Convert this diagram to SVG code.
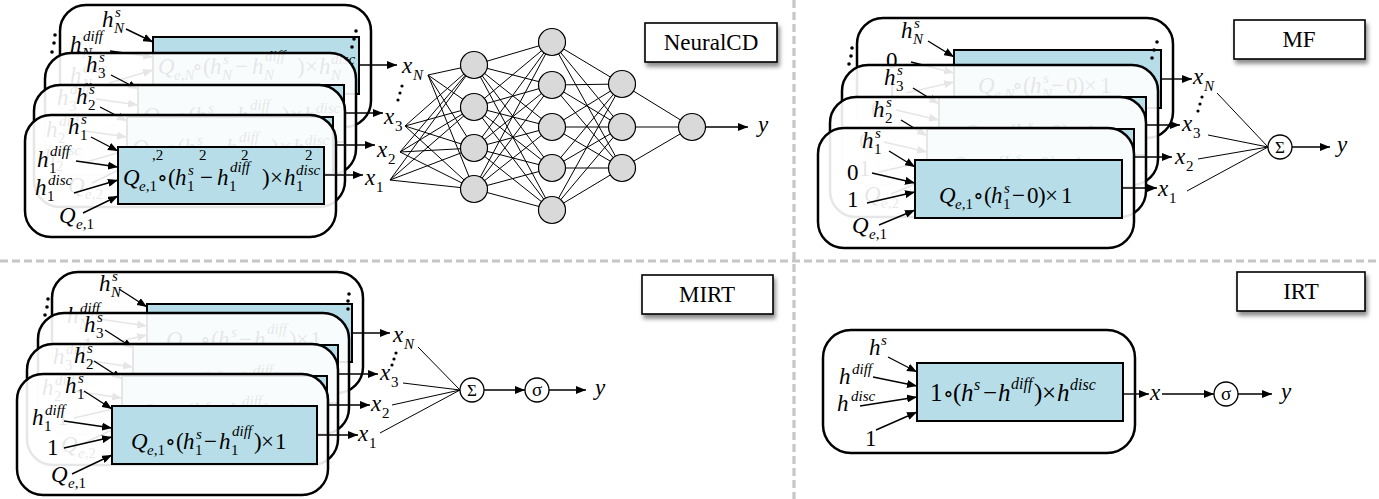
<svg xmlns="http://www.w3.org/2000/svg" width="1379" height="499" viewBox="0 0 1379 499">
<defs>
<marker id="ah" viewBox="0 0 10 8" refX="10" refY="4" markerWidth="10" markerHeight="8" markerUnits="userSpaceOnUse" orient="auto"><path d="M0,0L10,4L0,8z" fill="#000"/></marker>
<filter id="sh" x="-20%" y="-30%" width="150%" height="180%"><feDropShadow dx="2" dy="4" stdDeviation="2.2" flood-color="#000" flood-opacity="0.45"/></filter>
<style>
.card{fill:#fff;fill-opacity:0.9;stroke:#000;stroke-width:2.5}
.blue{fill:#b7dee8;stroke:#000;stroke-width:2}
.t{font-family:"Liberation Serif","Times New Roman","DejaVu Serif",serif;font-size:23px;fill:#000}
.i{font-style:italic}
.s{font-size:15px}
.r{font-family:"DejaVu Serif",serif;font-size:22px}
.arr{stroke:#000;stroke-width:1.4;fill:none;marker-end:url(#ah)}
.ln{stroke:#000;stroke-width:1;fill:none}
.nd{fill:#d9d9d9;stroke:#000;stroke-width:1.2}
.op{fill:#fff;stroke:#000;stroke-width:1.3}
.sep{stroke:#c6c6c6;stroke-width:3.2;stroke-dasharray:8 4;fill:none}
.box{fill:#fff;stroke:#000;stroke-width:1.6;filter:url(#sh)}
.bt{font-family:"Liberation Serif","Times New Roman",serif;font-size:23px;text-anchor:middle}
.dot{fill:#000}
</style>
</defs>
<rect width="1379" height="499" fill="#fff"/>

<g id="separators">
<path class="sep" d="M794 0V499"/>
<path class="sep" d="M0 261H1379"/>
</g>

<!-- ================= NeuralCD ================= -->
<g id="ncd-card-N" transform="translate(60,5)">
<rect class="card" width="311" height="122" rx="26"/>
<rect class="blue" x="93" y="32" width="206" height="57"/>
<text class="t i" x="42" y="22">h</text><text class="t s i" x="54" y="28">N</text><text class="t s i" x="55" y="12">s</text>
<path class="arr" d="M66 24L93 37"/>
<text class="t i" x="10" y="47">h</text><text class="t s i" x="22" y="53">N</text><text class="t s i" x="23" y="36">diff</text>
<path class="arr" d="M50 46L93 52"/>
<text class="t i" x="10" y="78">h</text><text class="t s i" x="22" y="84">N</text><text class="t s i" x="23" y="68">disc</text>
<path class="arr" d="M49 78L93 65"/>
<text class="t i" x="34" y="108">Q</text><text class="t s" x="51" y="114"><tspan class="i">e</tspan>,<tspan class="i">N</tspan></text>
<path class="arr" d="M58 98L93 81"/>
<text class="t"><tspan class="i" x="98" y="69">Q</tspan><tspan class="s" x="114" y="75"><tspan class="i">e</tspan>,<tspan class="i">N</tspan></tspan><tspan class="r" x="132" y="69">∘</tspan><tspan x="143" y="69">(</tspan><tspan class="i" x="150" y="69">h</tspan><tspan class="s i" x="162" y="75">N</tspan><tspan class="s i" x="163" y="59">s</tspan><tspan x="175" y="69">−</tspan><tspan class="i" x="192" y="69">h</tspan><tspan class="s i" x="204" y="75">N</tspan><tspan class="s i" x="205" y="56">diff</tspan><tspan x="237" y="69">)</tspan><tspan x="245" y="69">×</tspan><tspan class="i" x="259" y="69">h</tspan><tspan class="s i" x="271" y="75">N</tspan><tspan class="s i" x="271" y="59">disc</tspan></text>
<path class="arr" d="M299 60H337"/>
<circle class="dot" cx="-5" cy="30" r="1.8"/><circle class="dot" cx="-6" cy="38" r="1.8"/><circle class="dot" cx="-8" cy="47" r="1.8"/>
<circle class="dot" cx="296" cy="26" r="1.8"/><circle class="dot" cx="294" cy="34" r="1.8"/><circle class="dot" cx="292" cy="42" r="1.8"/>
</g>

<g id="ncd-card-3" transform="translate(45,53)">
<rect class="card" width="311" height="122" rx="26"/>
<rect class="blue" x="93" y="32" width="206" height="57"/>
<text class="t i" x="41" y="19">h</text><text class="t s" x="53" y="25">3</text><text class="t s i" x="54" y="9">s</text>
<path class="arr" d="M66 22L93 36"/>
<text class="t i" x="12" y="52">h</text><text class="t s" x="24" y="58">3</text><text class="t s i" x="25" y="41">diff</text>
<path class="arr" d="M51 46L93 52"/>
<text class="t i" x="10" y="80">h</text><text class="t s" x="22" y="86">3</text><text class="t s i" x="23" y="70">disc</text>
<path class="arr" d="M49 78L93 65"/>
<text class="t i" x="34" y="108">Q</text><text class="t s" x="51" y="114"><tspan class="i">e</tspan>,3</text>
<path class="arr" d="M58 98L93 81"/>
<text class="t"><tspan class="i" x="98" y="70">Q</tspan><tspan class="s" x="114" y="76"><tspan class="i">e</tspan>,3</tspan><tspan class="r" x="132" y="70">∘</tspan><tspan x="143" y="70">(</tspan><tspan class="i" x="150" y="70">h</tspan><tspan class="s" x="162" y="76">3</tspan><tspan class="s i" x="163" y="60">s</tspan><tspan x="175" y="70">−</tspan><tspan class="i" x="192" y="70">h</tspan><tspan class="s" x="204" y="76">3</tspan><tspan class="s i" x="205" y="57">diff</tspan><tspan x="237" y="70">)</tspan><tspan x="245" y="70">×</tspan><tspan class="i" x="259" y="70">h</tspan><tspan class="s" x="271" y="76">3</tspan><tspan class="s i" x="271" y="60">disc</tspan></text>
<path class="arr" d="M299 60H338"/>
</g>

<g id="ncd-card-2" transform="translate(34,85)">
<rect class="card" width="311" height="122" rx="26"/>
<rect class="blue" x="93" y="32" width="206" height="57"/>
<text class="t i" x="42" y="19">h</text><text class="t s" x="54" y="25">2</text><text class="t s i" x="55" y="9">s</text>
<path class="arr" d="M66 22L93 36"/>
<text class="t i" x="12" y="52">h</text><text class="t s" x="24" y="58">2</text><text class="t s i" x="25" y="41">diff</text>
<path class="arr" d="M51 46L93 52"/>
<text class="t i" x="10" y="80">h</text><text class="t s" x="22" y="86">2</text><text class="t s i" x="23" y="70">disc</text>
<path class="arr" d="M49 78L93 65"/>
<text class="t i" x="34" y="108">Q</text><text class="t s" x="51" y="114"><tspan class="i">e</tspan>,2</text>
<path class="arr" d="M58 98L93 81"/>
<text class="t"><tspan class="i" x="98" y="70">Q</tspan><tspan class="s i" x="114" y="76">e</tspan><tspan class="r" x="132" y="70">∘</tspan><tspan x="143" y="70">(</tspan><tspan class="i" x="150" y="70">h</tspan><tspan class="s i" x="163" y="60">s</tspan><tspan x="175" y="70">−</tspan><tspan class="i" x="192" y="70">h</tspan><tspan class="s i" x="205" y="57">diff</tspan><tspan x="237" y="70">)</tspan><tspan x="245" y="70">×</tspan><tspan class="i" x="259" y="70">h</tspan><tspan class="s i" x="271" y="60">disc</tspan></text>
<path class="arr" d="M299 60H341"/>
</g>

<g id="ncd-card-1" transform="translate(25,115)">
<rect class="card" width="311" height="122" rx="26"/>
<rect class="blue" x="93" y="32" width="206" height="57"/>
<text class="t i" x="43" y="19">h</text><text class="t s" x="55" y="25">1</text><text class="t s i" x="56" y="9">s</text>
<path class="arr" d="M66 22L93 36"/>
<text class="t i" x="12" y="52">h</text><text class="t s" x="24" y="58">1</text><text class="t s i" x="25" y="41">diff</text>
<path class="arr" d="M51 46L93 52"/>
<text class="t i" x="10" y="80">h</text><text class="t s" x="22" y="86">1</text><text class="t s i" x="23" y="70">disc</text>
<path class="arr" d="M49 78L93 65"/>
<text class="t i" x="34" y="108">Q</text><text class="t s" x="51" y="114"><tspan class="i">e</tspan>,1</text>
<path class="arr" d="M58 98L93 81"/>
<text class="t"><tspan class="i" x="98" y="70">Q</tspan><tspan class="s" x="114" y="76"><tspan class="i">e</tspan>,1</tspan><tspan class="r" x="132" y="70">∘</tspan><tspan x="143" y="70">(</tspan><tspan class="i" x="150" y="70">h</tspan><tspan class="s" x="162" y="76">1</tspan><tspan class="s i" x="163" y="60">s</tspan><tspan x="175" y="70">−</tspan><tspan class="i" x="192" y="70">h</tspan><tspan class="s" x="204" y="76">1</tspan><tspan class="s i" x="205" y="57">diff</tspan><tspan x="237" y="70">)</tspan><tspan x="245" y="70">×</tspan><tspan class="i" x="259" y="70">h</tspan><tspan class="s" x="271" y="76">1</tspan><tspan class="s i" x="271" y="60">disc</tspan></text>
<path class="arr" d="M299 60H338"/>
</g>
<g id="ncd-card-2-subscripts">
<text class="t s" x="152" y="160">,2</text><text class="t s" x="199" y="160">2</text><text class="t s" x="241" y="160">2</text><text class="t s" x="305" y="160">2</text>
</g>

<g id="ncd-connectors">
<path class="ln" d="M428 75L474 65M428 75L474 107M428 75L474 148M428 75L474 189M405 126L474 65M405 126L474 107M405 126L474 148M405 126L474 189M400 152L474 65M400 152L474 107M400 152L474 148M400 152L474 189M390 180L474 65M390 180L474 107M390 180L474 148M390 180L474 189"/>
<path class="ln" d="M474 65L552 42M474 65L552 85M474 65L552 127M474 65L552 168M474 65L552 210M474 107L552 42M474 107L552 85M474 107L552 127M474 107L552 168M474 107L552 210M474 148L552 42M474 148L552 85M474 148L552 127M474 148L552 168M474 148L552 210M474 189L552 42M474 189L552 85M474 189L552 127M474 189L552 168M474 189L552 210"/>
<path class="ln" d="M552 42L622 84M552 42L622 127M552 42L622 168M552 85L622 84M552 85L622 127M552 85L622 168M552 127L622 84M552 127L622 127M552 127L622 168M552 168L622 84M552 168L622 127M552 168L622 168M552 210L622 84M552 210L622 127M552 210L622 168"/>
<path class="ln" d="M622 84L692 127M622 127L692 127M622 168L692 127"/>
<path class="arr" d="M706 127H748"/>
</g>
<g id="ncd-nodes">
<g id="ncd-l1"><circle class="nd" cx="474" cy="65" r="13.5"/><circle class="nd" cx="474" cy="107" r="13.5"/><circle class="nd" cx="474" cy="148" r="13.5"/><circle class="nd" cx="474" cy="189" r="13.5"/></g>
<g id="ncd-l2"><circle class="nd" cx="552" cy="42" r="13.5"/><circle class="nd" cx="552" cy="85" r="13.5"/><circle class="nd" cx="552" cy="127" r="13.5"/><circle class="nd" cx="552" cy="168" r="13.5"/><circle class="nd" cx="552" cy="210" r="13.5"/></g>
<g id="ncd-l3"><circle class="nd" cx="622" cy="84" r="13.5"/><circle class="nd" cx="622" cy="127" r="13.5"/><circle class="nd" cx="622" cy="168" r="13.5"/></g>
<g id="ncd-out"><circle class="nd" cx="692" cy="127" r="13.5"/></g>
</g>
<g id="ncd-labels">
<text class="t i" x="365" y="185">x</text><text class="t s" x="376" y="192">1</text>
<text class="t i" x="377" y="157">x</text><text class="t s" x="388" y="164">2</text>
<text class="t i" x="384" y="124">x</text><text class="t s" x="395" y="131">3</text>
<text class="t i" x="402" y="73">x</text><text class="t s i" x="413" y="80">N</text>
<circle class="dot" cx="402" cy="86" r="1.6"/><circle class="dot" cx="400" cy="93" r="1.6"/><circle class="dot" cx="398" cy="100" r="1.6"/>
<text class="t i" x="758" y="132">y</text>
</g>
<g id="ncd-title"><rect class="box" x="645" y="23" width="132" height="39"/><text class="bt" x="711" y="50">NeuralCD</text></g>

<!-- ================= MF ================= -->
<g id="mf-card-N" transform="translate(857,18)">
<rect class="card" width="316" height="120" rx="26"/>
<rect class="blue" x="97" y="32" width="207" height="58"/>
<text class="t i" x="44" y="20">h</text><text class="t s i" x="56" y="26">N</text><text class="t s i" x="57" y="10">s</text>
<path class="arr" d="M71 23L97 39"/>
<text class="t" x="29" y="50">0</text><path class="arr" d="M54 44L97 55"/>
<text class="t" x="29" y="79">1</text><path class="arr" d="M49 75L97 64"/>
<text class="t i" x="34" y="105">Q</text><text class="t s" x="51" y="111"><tspan class="i">e</tspan>,<tspan class="i">N</tspan></text>
<path class="arr" d="M61 97L97 82"/>
<text class="t"><tspan class="i" x="121" y="75">Q</tspan><tspan class="s" x="137" y="81"><tspan class="i">e</tspan>,<tspan class="i">N</tspan></tspan><tspan class="r" x="155" y="75">∘</tspan><tspan x="166" y="75">(</tspan><tspan class="i" x="173" y="75">h</tspan><tspan class="s i" x="185" y="81">N</tspan><tspan class="s i" x="186" y="65">s</tspan><tspan x="194" y="75">−</tspan><tspan x="209" y="75">0</tspan><tspan x="220" y="75">)</tspan><tspan x="227" y="75">×</tspan><tspan x="243" y="75">1</tspan></text>
<path class="arr" d="M304 61H335"/>
<circle class="dot" cx="-5" cy="30" r="1.8"/><circle class="dot" cx="-6" cy="38" r="1.8"/><circle class="dot" cx="-8" cy="46" r="1.8"/>
<circle class="dot" cx="300" cy="24" r="1.8"/><circle class="dot" cx="297" cy="32" r="1.8"/><circle class="dot" cx="295" cy="40" r="1.8"/>
</g>
<g id="mf-card-3" transform="translate(842,65)">
<rect class="card" width="316" height="120" rx="26"/>
<rect class="blue" x="97" y="32" width="207" height="58"/>
<text class="t i" x="42" y="20">h</text><text class="t s" x="54" y="26">3</text><text class="t s i" x="55" y="10">s</text>
<path class="arr" d="M71 23L97 39"/>
<text class="t" x="29" y="52">0</text><path class="arr" d="M54 45L97 55"/>
<text class="t" x="29" y="79">1</text><path class="arr" d="M49 75L97 64"/>
<text class="t i" x="34" y="105">Q</text><text class="t s" x="51" y="111"><tspan class="i">e</tspan>,3</text>
<path class="arr" d="M61 97L97 82"/>
<text class="t"><tspan class="i" x="121" y="75">Q</tspan><tspan class="s" x="137" y="81"><tspan class="i">e</tspan>,3</tspan><tspan class="r" x="155" y="75">∘</tspan><tspan x="166" y="75">(</tspan><tspan class="i" x="173" y="75">h</tspan><tspan class="s" x="185" y="81">3</tspan><tspan class="s i" x="186" y="65">s</tspan><tspan x="194" y="75">−</tspan><tspan x="209" y="75">0</tspan><tspan x="220" y="75">)</tspan><tspan x="227" y="75">×</tspan><tspan x="243" y="75">1</tspan></text>
<path class="arr" d="M304 60H338"/>
</g>
<g id="mf-card-2" transform="translate(830,97)">
<rect class="card" width="316" height="120" rx="26"/>
<rect class="blue" x="97" y="32" width="207" height="58"/>
<text class="t i" x="43" y="20">h</text><text class="t s" x="55" y="26">2</text><text class="t s i" x="56" y="10">s</text>
<path class="arr" d="M71 23L97 39"/>
<text class="t" x="29" y="52">0</text><path class="arr" d="M54 45L97 55"/>
<text class="t" x="29" y="79">1</text><path class="arr" d="M49 75L97 64"/>
<text class="t i" x="34" y="105">Q</text><text class="t s" x="51" y="111"><tspan class="i">e</tspan>,2</text>
<path class="arr" d="M61 97L97 82"/>
<text class="t"><tspan class="i" x="121" y="75">Q</tspan><tspan class="s" x="137" y="81"><tspan class="i">e</tspan>,2</tspan><tspan class="r" x="155" y="75">∘</tspan><tspan x="166" y="75">(</tspan><tspan class="i" x="173" y="75">h</tspan><tspan class="s" x="185" y="81">2</tspan><tspan class="s i" x="186" y="65">s</tspan><tspan x="194" y="75">−</tspan><tspan x="209" y="75">0</tspan><tspan x="220" y="75">)</tspan><tspan x="227" y="75">×</tspan><tspan x="243" y="75">1</tspan></text>
<path class="arr" d="M304 60H342"/>
</g>
<g id="mf-card-1" transform="translate(818,128)">
<rect class="card" width="316" height="120" rx="26"/>
<rect class="blue" x="97" y="32" width="207" height="58"/>
<text class="t i" x="44" y="20">h</text><text class="t s" x="56" y="26">1</text><text class="t s i" x="57" y="10">s</text>
<path class="arr" d="M71 23L97 39"/>
<text class="t" x="29" y="52">0</text><path class="arr" d="M54 45L97 55"/>
<text class="t" x="29" y="79">1</text><path class="arr" d="M49 75L97 64"/>
<text class="t i" x="34" y="105">Q</text><text class="t s" x="51" y="111"><tspan class="i">e</tspan>,1</text>
<path class="arr" d="M61 97L97 82"/>
<text class="t"><tspan class="i" x="121" y="75">Q</tspan><tspan class="s" x="137" y="81"><tspan class="i">e</tspan>,1</tspan><tspan class="r" x="155" y="75">∘</tspan><tspan x="166" y="75">(</tspan><tspan class="i" x="173" y="75">h</tspan><tspan class="s" x="185" y="81">1</tspan><tspan class="s i" x="186" y="65">s</tspan><tspan x="194" y="75">−</tspan><tspan x="209" y="75">0</tspan><tspan x="220" y="75">)</tspan><tspan x="227" y="75">×</tspan><tspan x="243" y="75">1</tspan></text>
<path class="arr" d="M304 60H339"/>
</g>
<g id="mf-connectors">
<path class="ln" d="M1217 93L1268 147M1208 135L1268 147M1198 159L1268 147M1187 191L1268 147"/>
<path class="arr" d="M1292 147H1330"/>
</g>
<g id="mf-sum"><circle class="op" cx="1280" cy="147" r="12"/><text class="t" x="1280" y="153" text-anchor="middle" style="font-size:17px">Σ</text></g>
<g id="mf-labels">
<text class="t i" x="1158" y="196">x</text><text class="t s" x="1169" y="203">1</text>
<text class="t i" x="1175" y="164">x</text><text class="t s" x="1186" y="171">2</text>
<text class="t i" x="1182" y="131">x</text><text class="t s" x="1193" y="138">3</text>
<text class="t i" x="1193" y="84">x</text><text class="t s i" x="1204" y="91">N</text>
<circle class="dot" cx="1202" cy="97" r="1.6"/><circle class="dot" cx="1200" cy="104" r="1.6"/><circle class="dot" cx="1198" cy="111" r="1.6"/>
<text class="t i" x="1337" y="152">y</text>
</g>
<g id="mf-title"><rect class="box" x="1234" y="20" width="131" height="39"/><text class="bt" x="1299" y="47">MF</text></g>

<!-- ================= MIRT ================= -->
<g id="mirt-card-N" transform="translate(52,272)">
<rect class="card" width="311" height="121" rx="26"/>
<rect class="blue" x="95" y="32" width="205" height="58"/>
<text class="t i" x="47" y="19">h</text><text class="t s i" x="59" y="25">N</text><text class="t s i" x="60" y="9">s</text>
<path class="arr" d="M67 17L95 35"/>
<text class="t i" x="15" y="51">h</text><text class="t s i" x="27" y="57">N</text><text class="t s i" x="28" y="41">diff</text>
<path class="arr" d="M47 47L95 54"/>
<text class="t" x="30" y="81">1</text><path class="arr" d="M47 74L95 63"/>
<text class="t i" x="34" y="108">Q</text><text class="t s" x="51" y="114"><tspan class="i">e</tspan>,<tspan class="i">N</tspan></text>
<path class="arr" d="M55 100L95 81"/>
<text class="t"><tspan class="i" x="114" y="75">Q</tspan><tspan class="s" x="130" y="81"><tspan class="i">e</tspan>,<tspan class="i">N</tspan></tspan><tspan class="r" x="148" y="75">∘</tspan><tspan x="159" y="75">(</tspan><tspan class="i" x="166" y="75">h</tspan><tspan class="s i" x="178" y="81">N</tspan><tspan class="s i" x="179" y="65">s</tspan><tspan x="187" y="75">−</tspan><tspan class="i" x="202" y="75">h</tspan><tspan class="s i" x="214" y="81">N</tspan><tspan class="s i" x="215" y="62">diff</tspan><tspan x="237" y="75">)</tspan><tspan x="244" y="75">×</tspan><tspan x="258" y="75">1</tspan></text>
<path class="arr" d="M300 61H338"/>
<circle class="dot" cx="-4" cy="27" r="1.8"/><circle class="dot" cx="-5" cy="35" r="1.8"/><circle class="dot" cx="-7" cy="43" r="1.8"/>
<circle class="dot" cx="297" cy="22" r="1.8"/><circle class="dot" cx="296" cy="29" r="1.8"/><circle class="dot" cx="296" cy="37" r="1.8"/>
</g>
<g id="mirt-card-3" transform="translate(38,313)">
<rect class="card" width="311" height="121" rx="26"/>
<rect class="blue" x="95" y="32" width="205" height="58"/>
<text class="t i" x="46" y="19">h</text><text class="t s" x="58" y="25">3</text><text class="t s i" x="59" y="9">s</text>
<path class="arr" d="M67 17L95 35"/>
<text class="t i" x="15" y="51">h</text><text class="t s" x="27" y="57">3</text><text class="t s i" x="28" y="41">diff</text>
<path class="arr" d="M47 47L95 54"/>
<text class="t" x="30" y="81">1</text><path class="arr" d="M47 74L95 63"/>
<text class="t i" x="34" y="108">Q</text><text class="t s" x="51" y="114"><tspan class="i">e</tspan>,3</text>
<path class="arr" d="M55 100L95 81"/>
<text class="t"><tspan class="i" x="114" y="75">Q</tspan><tspan class="s" x="130" y="81"><tspan class="i">e</tspan>,3</tspan><tspan class="r" x="148" y="75">∘</tspan><tspan x="159" y="75">(</tspan><tspan class="i" x="166" y="75">h</tspan><tspan class="s" x="178" y="81">3</tspan><tspan class="s i" x="179" y="65">s</tspan><tspan x="187" y="75">−</tspan><tspan class="i" x="202" y="75">h</tspan><tspan class="s" x="214" y="81">3</tspan><tspan class="s i" x="215" y="62">diff</tspan><tspan x="237" y="75">)</tspan><tspan x="244" y="75">×</tspan><tspan x="258" y="75">1</tspan></text>
<path class="arr" d="M300 61H340"/>
</g>
<g id="mirt-card-2" transform="translate(27,344)">
<rect class="card" width="311" height="121" rx="26"/>
<rect class="blue" x="95" y="32" width="205" height="58"/>
<text class="t i" x="47" y="19">h</text><text class="t s" x="59" y="25">2</text><text class="t s i" x="60" y="9">s</text>
<path class="arr" d="M67 17L95 35"/>
<text class="t i" x="15" y="51">h</text><text class="t s" x="27" y="57">2</text><text class="t s i" x="28" y="41">diff</text>
<path class="arr" d="M47 47L95 54"/>
<text class="t" x="30" y="81">1</text><path class="arr" d="M47 74L95 63"/>
<text class="t i" x="34" y="108">Q</text><text class="t s" x="51" y="114"><tspan class="i">e</tspan>,2</text>
<path class="arr" d="M55 100L95 81"/>
<text class="t"><tspan class="i" x="114" y="75">Q</tspan><tspan class="s" x="130" y="81"><tspan class="i">e</tspan>,2</tspan><tspan class="r" x="148" y="75">∘</tspan><tspan x="159" y="75">(</tspan><tspan class="i" x="166" y="75">h</tspan><tspan class="s" x="178" y="81">2</tspan><tspan class="s i" x="179" y="65">s</tspan><tspan x="187" y="75">−</tspan><tspan class="i" x="202" y="75">h</tspan><tspan class="s" x="214" y="81">2</tspan><tspan class="s i" x="215" y="62">diff</tspan><tspan x="237" y="75">)</tspan><tspan x="244" y="75">×</tspan><tspan x="258" y="75">1</tspan></text>
<path class="arr" d="M300 61H343"/>
</g>
<g id="mirt-card-1" transform="translate(17,374)">
<rect class="card" width="311" height="121" rx="26"/>
<rect class="blue" x="95" y="32" width="205" height="58"/>
<text class="t i" x="48" y="19">h</text><text class="t s" x="60" y="25">1</text><text class="t s i" x="61" y="9">s</text>
<path class="arr" d="M67 17L95 35"/>
<text class="t i" x="15" y="51">h</text><text class="t s" x="27" y="57">1</text><text class="t s i" x="28" y="41">diff</text>
<path class="arr" d="M47 47L95 54"/>
<text class="t" x="30" y="81">1</text><path class="arr" d="M47 74L95 63"/>
<text class="t i" x="34" y="108">Q</text><text class="t s" x="51" y="114"><tspan class="i">e</tspan>,1</text>
<path class="arr" d="M55 100L95 81"/>
<text class="t"><tspan class="i" x="114" y="75">Q</tspan><tspan class="s" x="130" y="81"><tspan class="i">e</tspan>,1</tspan><tspan class="r" x="148" y="75">∘</tspan><tspan x="159" y="75">(</tspan><tspan class="i" x="166" y="75">h</tspan><tspan class="s" x="178" y="81">1</tspan><tspan class="s i" x="179" y="65">s</tspan><tspan x="187" y="75">−</tspan><tspan class="i" x="202" y="75">h</tspan><tspan class="s" x="214" y="81">1</tspan><tspan class="s i" x="215" y="62">diff</tspan><tspan x="237" y="75">)</tspan><tspan x="244" y="75">×</tspan><tspan x="258" y="75">1</tspan></text>
<path class="arr" d="M300 61H341"/>
</g>
<g id="mirt-connectors">
<path class="ln" d="M418 347L460 390M403 383L460 390M392 405L460 390M380 433L460 390"/>
<path class="arr" d="M484 390H525"/>
<path class="arr" d="M549 390H586"/>
</g>
<g id="mirt-sum"><circle class="op" cx="472" cy="390" r="12"/><text class="t" x="472" y="396" text-anchor="middle" style="font-size:17px">Σ</text></g>
<g id="mirt-sigma"><circle class="op" cx="537" cy="390" r="12"/><text class="t" x="537" y="396" text-anchor="middle" style="font-size:19px">σ</text></g>
<g id="mirt-labels">
<text class="t i" x="358" y="441">x</text><text class="t s" x="369" y="448">1</text>
<text class="t i" x="371" y="411">x</text><text class="t s" x="382" y="418">2</text>
<text class="t i" x="380" y="380">x</text><text class="t s" x="391" y="387">3</text>
<text class="t i" x="393" y="342">x</text><text class="t s i" x="404" y="349">N</text>
<circle class="dot" cx="396" cy="353" r="1.6"/><circle class="dot" cx="394" cy="359" r="1.6"/><circle class="dot" cx="392" cy="365" r="1.6"/>
<text class="t i" x="595" y="395">y</text>
</g>
<g id="mirt-title"><rect class="box" x="642" y="275" width="131" height="39"/><text class="bt" x="707" y="302">MIRT</text></g>

<!-- ================= IRT ================= -->
<g id="irt-card">
<rect class="card" x="823" y="330" width="312" height="123" rx="28"/>
<rect class="blue" x="917" y="363" width="206" height="58"/>
<text class="t i" x="869" y="355">h</text><text class="t s i" x="881" y="345">s</text>
<path class="arr" d="M888 357L917 372"/>
<text class="t i" x="839" y="384">h</text><text class="t s i" x="852" y="374">diff</text>
<path class="arr" d="M873 377L917 386"/>
<text class="t i" x="837" y="411">h</text><text class="t s i" x="851" y="401">disc</text>
<path class="arr" d="M860 406L917 397"/>
<text class="t" x="865" y="446">1</text>
<path class="arr" d="M876 430L917 412"/>
<text class="t" style="font-size:25px"><tspan x="930" y="401">1</tspan><tspan class="r" x="943" y="401">∘</tspan><tspan x="953" y="401">(</tspan><tspan class="i" x="961" y="401">h</tspan><tspan class="s i" style="font-size:16px" x="974" y="390">s</tspan><tspan x="983" y="401">−</tspan><tspan class="i" x="998" y="401">h</tspan><tspan class="s i" style="font-size:16px" x="1011" y="389">diff</tspan><tspan x="1034" y="401">)</tspan><tspan x="1042" y="401">×</tspan><tspan class="i" x="1057" y="401">h</tspan><tspan class="s i" style="font-size:16px" x="1070" y="390">disc</tspan></text>
</g>
<g id="irt-connectors">
<path class="arr" d="M1123 394H1149"/>
<path class="arr" d="M1162 394H1214"/>
<path class="arr" d="M1238 394H1272"/>
</g>
<g id="irt-sigma"><circle class="op" cx="1226" cy="394" r="12"/><text class="t" x="1226" y="400" text-anchor="middle" style="font-size:19px">σ</text></g>
<g id="irt-labels">
<text class="t i" x="1150" y="400">x</text>
<text class="t i" x="1281" y="399">y</text>
</g>
<g id="irt-title"><rect class="box" x="1237" y="272" width="128" height="39"/><text class="bt" x="1301" y="299">IRT</text></g>
</svg>
